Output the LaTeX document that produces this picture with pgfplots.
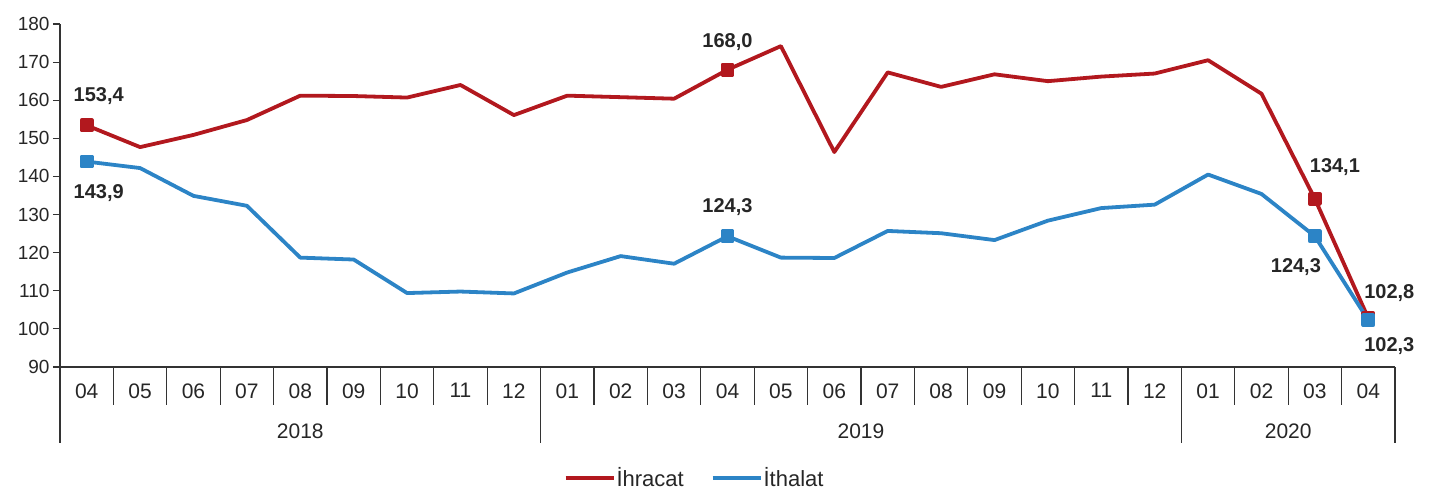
\documentclass[border=0pt]{standalone}
\usepackage{fontspec}
\setmainfont{Liberation Sans}
\usepackage{pgfplots}
\pgfplotsset{compat=1.18}
\definecolor{ired}{RGB}{178,24,30}
\definecolor{iblue}{RGB}{44,132,198}
\definecolor{txt}{RGB}{38,38,38}
\begin{document}
\begin{tikzpicture}
\useasboundingbox (-60pt,-133pt) rectangle (1375pt,367pt);
\begin{axis}[
  scale only axis, width=1335pt, height=343pt,
  xmin=-0.5, xmax=24.5, ymin=90, ymax=180,
  axis x line*=bottom, axis y line*=left,
  axis line style={line width=1.3pt, black!80},
  ytick={90,100,...,180},
  xtick={0,...,24},
  xticklabels={04,05,06,07,08,09,10,11,12,01,02,03,04,05,06,07,08,09,10,11,12,01,02,03,04},
  x tick style={draw=none},
  y tick style={line width=1.1pt, black!80},
  tick align=outside, major tick length=7pt,
  yticklabel style={font=\fontsize{19}{22}\selectfont, text=txt},
  xticklabel style={font=\fontsize{21}{24}\selectfont, text=txt, yshift=-6pt},
  /pgf/number format/assume math mode=true,
  clip=false,
  legend columns=2,
  legend style={draw=none, fill=none, at={(0.475,-0.324)}, anchor=center,
    font=\fontsize{22}{26}\selectfont, text=txt,
    nodes={inner xsep=1pt},
    /tikz/every even column/.append style={column sep=26pt}},
  legend image code/.code={\draw[#1] (0pt,0pt) -- (48pt,0pt);},
]
\addplot[ired, line width=3.8pt, line join=round, mark=square*, mark indices={1,13,24,25}, mark size=5pt, mark options={solid}] coordinates {
(0,153.4) (1,147.7) (2,150.9) (3,154.8) (4,161.2) (5,161.1) (6,160.7) (7,164.0) (8,156.1)
(9,161.2) (10,160.8) (11,160.4) (12,168.0) (13,174.2) (14,146.4) (15,167.3) (16,163.5)
(17,166.8) (18,165.0) (19,166.2) (20,167.0) (21,170.5) (22,161.7) (23,134.1) (24,102.8)};
\addlegendentry{İhracat}
\addplot[iblue, line width=3.8pt, line join=round, mark=square*, mark indices={1,13,24,25}, mark size=5pt, mark options={solid}] coordinates {
(0,143.9) (1,142.2) (2,134.9) (3,132.3) (4,118.7) (5,118.2) (6,109.4) (7,109.8) (8,109.3)
(9,114.8) (10,119.1) (11,117.1) (12,124.3) (13,118.7) (14,118.6) (15,125.7) (16,125.1)
(17,123.3) (18,128.4) (19,131.7) (20,132.6) (21,140.5) (22,135.4) (23,124.3) (24,102.3)};
\addlegendentry{İthalat}
\pgfplotsinvokeforeach{0.5,1.5,...,23.5}{\draw[line width=1.3pt, black!80] (axis cs:#1,90) -- ++(0pt,-38pt);}
\pgfplotsinvokeforeach{-0.5,8.5,20.5,24.5}{\draw[line width=1.3pt, black!80] (axis cs:#1,90) -- ++(0pt,-76pt);}
\node[font=\fontsize{21}{24}\selectfont, text=txt] at ([yshift=-64pt]axis cs:4,90) {2018};
\node[font=\fontsize{21}{24}\selectfont, text=txt] at ([yshift=-64pt]axis cs:14.5,90) {2019};
\node[font=\fontsize{21}{24}\selectfont, text=txt] at ([yshift=-64pt]axis cs:22.5,90) {2020};
\tikzset{dl/.style={font=\bfseries\fontsize{20}{24}\selectfont, text=txt}}
\node[dl] at ([xshift=12pt,yshift=29pt]axis cs:0,153.4) {153,4};
\node[dl] at ([xshift=12pt,yshift=-31pt]axis cs:0,143.9) {143,9};
\node[dl] at ([xshift=0pt,yshift=28pt]axis cs:12,168.0) {168,0};
\node[dl] at ([xshift=0pt,yshift=29pt]axis cs:12,124.3) {124,3};
\node[dl] at ([xshift=20pt,yshift=32pt]axis cs:23,134.1) {134,1};
\node[dl] at ([xshift=-19pt,yshift=-31pt]axis cs:23,124.3) {124,3};
\node[dl] at ([xshift=21pt,yshift=25pt]axis cs:24,102.8) {102,8};
\node[dl] at ([xshift=21pt,yshift=-26pt]axis cs:24,102.3) {102,3};
\end{axis}
\end{tikzpicture}
\end{document}
